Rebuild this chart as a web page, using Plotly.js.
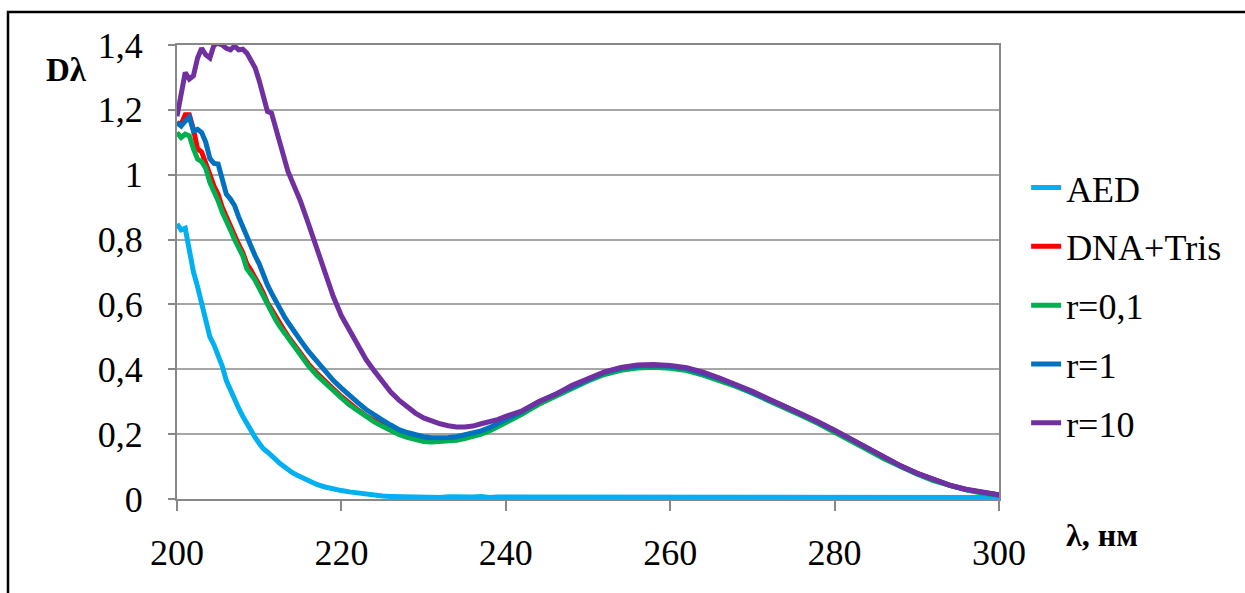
<!DOCTYPE html>
<html>
<head>
<meta charset="utf-8">
<script src="https://cdn.plot.ly/plotly-3.0.1.min.js"></script>
<style>html,body{margin:0;padding:0;background:#fff;}#chart{width:1245px;height:593px;}</style>
</head>
<body>
<div id="chart"></div>
<script>
const wavelength = [200,200.5,201,201.5,202,202.5,203,203.5,204,204.5,205,205.5,206,206.5,207,207.5,208,208.5,209,209.5,210,210.5,211,211.5,212,212.5,213,213.5,214,214.5,215,
216,217,218,219,220,221,222,223,224,225,226,227,228,229,230,231,232,233,234,235,236,237,238,239,240,
242,244,246,248,250,252,254,256,258,260,262,264,266,268,270,272,274,276,278,280,282,284,286,288,290,292,294,296,298,300];

const aed = [0.848,0.83,0.835,0.76,0.70,0.655,0.60,0.555,0.50,0.475,0.445,0.41,0.365,0.335,0.305,0.28,0.255,0.232,0.21,0.19,0.172,0.155,0.145,0.135,0.122,0.11,0.10,0.09,0.082,0.075,0.069,
0.055,0.045,0.037,0.03,0.026,0.022,0.018,0.014,0.012,0.009,0.008,0.007,0.008,0.006,0.007,0.006,0.005,0.007,0.006,0.005,0.006,0.008,0.005,0.006,0.006,
0.005,0.006,0.004,0.007,0.005,0.006,0.005,0.004,0.006,0.005,0.004,0.006,0.005,0.004,0.005,0.004,0.006,0.004,0.005,0.004,0.005,0.004,0.005,0.004,0.005,0.004,0.004,0.005,0.004,0.005];

const dnaTris = [1.16,1.155,1.185,1.185,1.14,1.08,1.07,1.03,1.0,0.965,0.94,0.90,0.87,0.84,0.81,0.785,0.76,0.725,0.705,0.685,0.66,0.635,0.605,0.585,0.562,0.54,0.522,0.502,0.485,0.467,0.449,
0.416,0.388,0.362,0.34,0.316,0.294,0.275,0.256,0.241,0.227,0.214,0.202,0.193,0.187,0.182,0.18,0.181,0.183,0.186,0.19,0.196,0.204,0.214,0.226,0.239,
0.265,0.295,0.319,0.345,0.367,0.387,0.40,0.407,0.409,0.406,0.399,0.385,0.369,0.35,0.329,0.307,0.284,0.26,0.236,0.21,0.183,0.155,0.126,0.102,0.079,0.059,0.042,0.029,0.019,0.012];

const r01 = [1.13,1.115,1.125,1.12,1.08,1.048,1.04,1.02,0.976,0.95,0.92,0.885,0.86,0.83,0.80,0.775,0.75,0.71,0.695,0.675,0.65,0.625,0.595,0.575,0.553,0.532,0.515,0.495,0.478,0.46,0.442,
0.41,0.382,0.357,0.335,0.312,0.29,0.272,0.253,0.238,0.224,0.211,0.199,0.19,0.183,0.177,0.176,0.177,0.179,0.181,0.186,0.192,0.20,0.21,0.222,0.235,
0.262,0.292,0.316,0.342,0.364,0.384,0.397,0.404,0.406,0.403,0.396,0.382,0.366,0.347,0.326,0.304,0.281,0.257,0.233,0.207,0.18,0.152,0.124,0.10,0.077,0.057,0.041,0.028,0.018,0.011];

const r1 = [1.16,1.15,1.165,1.178,1.135,1.14,1.13,1.10,1.05,1.035,1.033,0.99,0.94,0.925,0.905,0.87,0.84,0.805,0.78,0.75,0.725,0.69,0.66,0.635,0.61,0.59,0.565,0.545,0.525,0.505,0.49,
0.455,0.425,0.395,0.366,0.342,0.318,0.297,0.276,0.258,0.243,0.228,0.214,0.205,0.197,0.192,0.189,0.188,0.19,0.192,0.197,0.203,0.21,0.22,0.232,0.243,
0.27,0.30,0.322,0.348,0.37,0.39,0.403,0.41,0.412,0.409,0.402,0.388,0.371,0.351,0.33,0.307,0.284,0.261,0.237,0.211,0.184,0.156,0.127,0.102,0.079,0.059,0.042,0.029,0.019,0.012];

const r10 = [1.18,1.24,1.315,1.295,1.305,1.36,1.39,1.37,1.36,1.40,1.405,1.40,1.39,1.385,1.397,1.385,1.387,1.375,1.35,1.33,1.29,1.245,1.195,1.19,1.14,1.09,1.055,1.01,0.98,0.955,0.92,
0.848,0.776,0.70,0.625,0.565,0.52,0.47,0.43,0.395,0.36,0.33,0.305,0.285,0.265,0.25,0.24,0.232,0.226,0.222,0.222,0.225,0.232,0.238,0.245,0.255,
0.272,0.30,0.322,0.35,0.372,0.392,0.406,0.413,0.415,0.412,0.405,0.391,0.373,0.353,0.332,0.308,0.285,0.263,0.238,0.212,0.185,0.157,0.128,0.103,0.08,0.06,0.043,0.03,0.02,0.013];

const seriesNames = ['AED','DNA+Tris','r=0,1','r=1','r=10'];
const seriesColors = ['#00B0F0','#FF0000','#00B050','#0070C0','#7030A0'];
const seriesValues = [aed, dnaTris, r01, r1, r10];
const yTickVals = [0,0.2,0.4,0.6,0.8,1,1.2,1.4];
const yTickText = ['0','0,2','0,4','0,6','0,8','1','1,2','1,4'];
const xTickVals = [200,220,240,260,280,300];

const FONT = 'Liberation Serif';

const traces = seriesNames.map((n,i)=>({
  x: wavelength, y: seriesValues[i], name: n, type: 'scatter', mode: 'lines',
  line: {color: seriesColors[i], width: 5},
  legendgroup: 'g'+i
}));

const layout = {
  width: 1245, height: 593,
  margin: {l:177, r:246, t:45, b:94, pad:0},
  paper_bgcolor: '#fff', plot_bgcolor: '#fff',
  font: {family: FONT, size: 36, color: '#000'},
  showlegend: true,
  legend: {x: 1.033, xanchor: 'left', y: 0.427, yanchor: 'middle', font: {family: FONT, size: 36, color:'#000'},
           tracegroupgap: 9, bgcolor: 'rgba(0,0,0,0)', itemwidth: 30},
  xaxis: {range: [200,300], tickvals: xTickVals, ticks: 'outside', ticklen: 10, tickwidth: 2, tickcolor: '#888',
          showgrid: false, zeroline: false, showline: true, linecolor: '#888', linewidth: 2, mirror: true,
          tickfont: {family: FONT, size: 36, color:'#000'}, ticklabelstandoff: 11},
  yaxis: {range: [0,1.4], tickvals: yTickVals, ticktext: yTickText, ticks: 'outside', ticklen: 7, tickwidth: 2, tickcolor: '#888',
          showgrid: true, gridcolor: '#a6a6a6', gridwidth: 2, zeroline: false, showline: true, linecolor: '#888', linewidth: 2, mirror: true,
          tickfont: {family: FONT, size: 36, color:'#000'}, ticklabelstandoff: 18},
  annotations: [
    {text: '<b>Dλ</b>', xref: 'paper', yref: 'paper', x: -0.134, y: 0.945, xanchor: 'center', yanchor: 'middle', showarrow: false,
     font: {family: FONT, size: 33, color: '#000'}},
    {text: '<b>λ, нм</b>', xref: 'paper', yref: 'paper', x: 1.125, y: -0.08, xanchor: 'center', yanchor: 'middle', showarrow: false,
     font: {family: FONT, size: 32, color: '#000'}}
  ],
  shapes: [
    {type: 'rect', xref: 'paper', yref: 'paper', x0: -0.2056, x1: 1.4, y0: -0.4, y1: 1.0727, line: {color: '#000', width: 2.5}, layer: 'below'}
  ]
};

Plotly.newPlot('chart', traces, layout, {displayModeBar: false, staticPlot: true});
</script>
</body>
</html>
